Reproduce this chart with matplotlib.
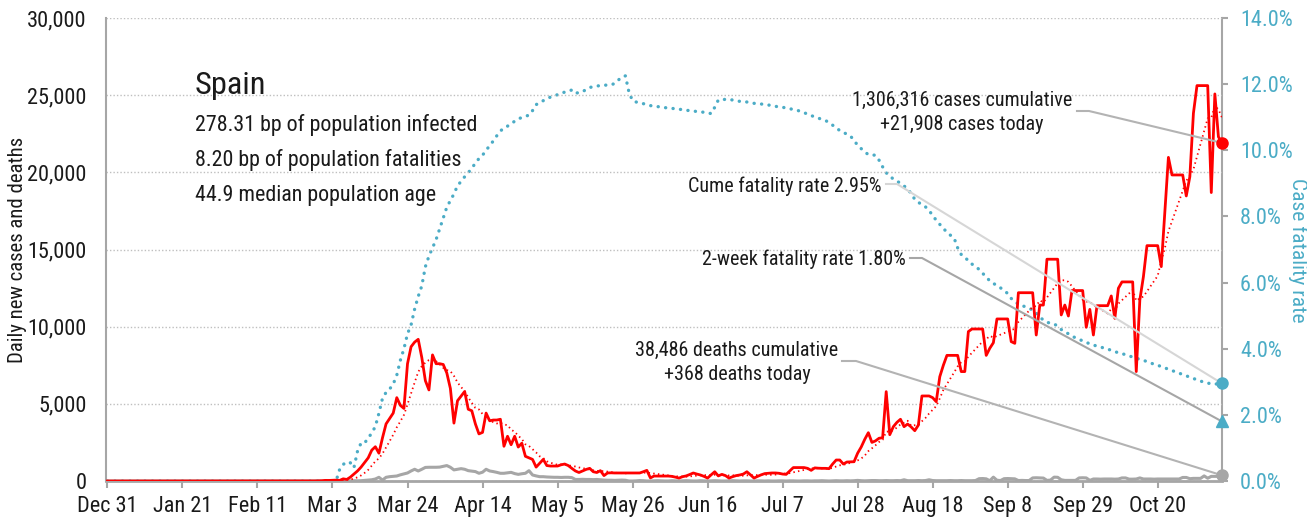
import matplotlib
matplotlib.use("Agg")
import matplotlib.pyplot as plt
import matplotlib.font_manager as fm
from matplotlib.font_manager import FontProperties
from matplotlib.textpath import TextPath
from matplotlib.lines import Line2D
import numpy as np
import pandas as pd

# ── Data (Spain, daily from Dec 31, 2019) ─────────────────────────────────────
START = "2019-12-31"

cases = [0] * 56 + [
    4, 3, 5, 10, 17, 39, 36, 45, 57, 37,
    141, 100, 250, 450, 650, 900, 1200, 1500, 2000, 2220,
    1800, 2800, 3700, 4050, 4400, 5400, 4900, 4700, 7600, 8700,
    9000, 9180, 8000, 6500, 5900, 8170, 7600, 7600, 7550, 7000,
    6000, 3750, 5200, 5500, 5800, 4650, 4550, 3700, 3050, 3150,
    4400, 3900, 3950, 3950, 4000, 2250, 2900, 2350, 2900, 2200,
    2450, 1600, 1500, 1400, 900, 1150, 1400, 1000, 970, 970,
    970, 1050, 1100, 1000, 820, 650, 550, 650, 750, 820,
    600, 550, 670, 350, 520, 530, 520, 520, 520, 520,
    520, 520, 520, 520, 600, 690, 200, 320, 320, 320,
    320, 320, 300, 250, 190, 280, 330, 420, 520, 450,
    390, 300, 190, 400, 600, 330, 430, 350, 190, 280,
    350, 390, 450, 600, 400, 190, 300, 400, 480, 500,
    520, 520, 500, 450, 430, 650, 870, 870, 870, 870,
    820, 690, 850, 830, 820, 820, 800, 1100, 1360, 1360,
    1100, 1230, 1240, 1250, 1800, 2200, 2700, 3130, 2500, 2600,
    2770, 2800, 5790, 3000, 3520, 3800, 4000, 3520, 3690, 3500,
    3260, 3620, 5510, 5510, 5510, 5400, 5140, 6760, 7500, 8140,
    8140, 8140, 8140, 7090, 7090, 9680, 9850, 9850, 9850, 9850,
    8140, 8600, 8960, 10500, 10500, 10500, 10500, 9030, 8920, 12200,
    12200, 12200, 12200, 12200, 9460, 11400, 11400, 14370, 14370, 14370,
    14370, 10760, 11400, 10690, 12340, 12340, 12340, 12340, 9960, 11120,
    9460, 11360, 11360, 11360, 11360, 11990, 10540, 12490, 12900, 12900,
    12900, 12900, 7090, 11730, 13240, 15250, 15250, 15250, 15250, 13890,
    17400, 20970, 19830, 19830, 19830, 19830, 18470, 19720, 23830, 25620,
    25620, 25620, 25620, 18690, 25080, 22300, 21908,
]

deaths = [0] * 65 + [
    2, 3, 5, 10, 17, 11, 20, 40, 60, 80,
    130, 240, 60, 240, 280, 300, 324, 400, 460, 520,
    650, 760, 650, 760, 880, 890, 890, 890, 900, 950,
    1000, 890, 720, 760, 800, 760, 670, 640, 610, 500,
    570, 760, 650, 610, 560, 500, 500, 530, 560, 480,
    430, 470, 500, 670, 390, 330, 280, 280, 260, 250,
    240, 240, 230, 240, 240, 220, 100, 100, 110, 100,
    100, 90, 100, 80, 60, 50, 50, 40, 50, 60,
    50, 0, 0, 10, 30, 20, 0, 0, 10, 20,
    10, 0, 0, 20, 10, 0, 10, 20, 10, 0,
    0, 20, 10, 0, 10, 20, 10, 0, 0, 10,
    20, 10, 0, 10, 10, 0, 0, 10, 10, 0,
    10, 0, 0, 10, 10, 0, 10, 10, 0, 0,
    10, 10, 0, 10, 10, 20, 10, 0, 10, 20,
    10, 10, 20, 10, 20, 40, 20, 10, 20, 30,
    30, 20, 20, 30, 20, 20, 30, 20, 80, 20,
    20, 20, 30, 20, 30, 80, 30, 20, 20, 20,
    20, 30, 20, 20, 30, 20, 20, 20, 30, 150,
    160, 140, 20, 250, 50, 30, 150, 160, 150, 140,
    30, 40, 30, 30, 200, 210, 200, 190, 40, 60,
    250, 240, 80, 40, 40, 40, 40, 200, 210, 200,
    40, 130, 130, 120, 130, 130, 130, 120, 130, 200,
    200, 120, 120, 130, 200, 130, 130, 130, 120, 130,
    130, 130, 130, 130, 130, 130, 230, 230, 150, 170,
    170, 170, 330, 180, 300, 300, 300, 368,
]

# cumulative case fatality rate, percent
cfr = [0] * 65 + [
    0.35, 0.50, 0.58, 0.55, 0.40, 0.90, 1.15, 1.15, 1.30, 1.45,
    1.65, 2.05, 2.50, 2.68, 2.78, 2.93, 3.20, 3.65, 4.00, 4.45,
    4.72, 5.20, 5.58, 5.90, 6.48, 6.80, 7.05, 7.30, 7.62, 7.95,
    8.28, 8.48, 8.68, 8.93, 9.06, 9.20, 9.32, 9.46, 9.61, 9.75,
    9.85, 10.00, 10.14, 10.28, 10.44, 10.58, 10.68, 10.73, 10.80, 10.88,
    10.95, 10.99, 11.03, 11.06, 11.20, 11.38, 11.44, 11.50, 11.55, 11.61,
    11.65, 11.68, 11.72, 11.76, 11.80, 11.82, 11.72, 11.75, 11.77, 11.84,
    11.90, 11.92, 11.94, 11.96, 11.97, 11.97, 11.98, 12.02, 12.12, 12.22,
    12.25, 11.75, 11.50, 11.46, 11.43, 11.41, 11.38, 11.35, 11.34, 11.32,
    11.31, 11.29, 11.28, 11.27, 11.25, 11.24, 11.23, 11.21, 11.20, 11.19,
    11.17, 11.16, 11.15, 11.13, 11.11, 11.30, 11.52, 11.53, 11.54, 11.54,
    11.52, 11.50, 11.48, 11.47, 11.46, 11.44, 11.42, 11.41, 11.40, 11.38,
    11.37, 11.35, 11.33, 11.31, 11.30, 11.28, 11.26, 11.23, 11.21, 11.18,
    11.14, 11.09, 11.05, 11.01, 10.97, 10.94, 10.90, 10.84, 10.76, 10.67,
    10.60, 10.55, 10.48, 10.43, 10.30, 10.15, 10.05, 9.95, 9.87, 9.86,
    9.85, 9.70, 9.50, 9.32, 9.22, 9.13, 9.07, 9.00, 8.92, 8.84,
    8.68, 8.52, 8.43, 8.35, 8.29, 8.17, 8.04, 7.88, 7.76, 7.64,
    7.52, 7.43, 7.35, 7.05, 6.85, 6.74, 6.68, 6.56, 6.48, 6.40,
    6.28, 6.17, 6.05, 5.98, 5.90, 5.84, 5.76, 5.67, 5.52, 5.42,
    5.35, 5.30, 5.27, 5.22, 5.17, 5.08, 4.95, 4.87, 4.80, 4.77,
    4.75, 4.68, 4.58, 4.52, 4.45, 4.38, 4.33, 4.28, 4.24, 4.19,
    4.15, 4.11, 4.08, 4.05, 4.02, 3.99, 3.95, 3.91, 3.88, 3.85,
    3.82, 3.78, 3.75, 3.71, 3.68, 3.65, 3.61, 3.57, 3.53, 3.50,
    3.46, 3.42, 3.38, 3.34, 3.30, 3.26, 3.22, 3.18, 3.14, 3.10,
    3.06, 3.02, 2.99, 2.96, 2.94, 2.93, 2.94, 2.95,
]

two_week_cfr = 1.80

title = "Spain"
info_lines = ["278.31 bp of population infected",
              "8.20 bp of population fatalities",
              "44.9 median population age"]
cases_note = ["1,306,316 cases cumulative", "+21,908 cases today"]
deaths_note = ["38,486 deaths cumulative", "+368 deaths today"]
cume_note = "Cume fatality rate 2.95%"
week_note = "2-week fatality rate 1.80%"

# ── Style ─────────────────────────────────────────────────────────────────────
RED = "#ff0000"
BLUE = "#4bacc6"
GREY = "#a6a6a6"
TXT = "#1a1a1a"

W, H = 1307, 520
L, R, T, B = 106, 1222, 18, 481   # axes box in pixels (y from top)

# pick a narrow face if there is one
names = {f.name for f in fm.fontManager.ttflist}
FONT, STRETCH = "Roboto", "normal"
for cand in ["Roboto Condensed", "Liberation Sans Narrow", "Open Sans Condensed",
             "Noto Sans Condensed"]:
    if cand in names:
        FONT = cand
        break
else:
    for f in fm.fontManager.ttflist:
        if f.name in ("DejaVu Sans", "Noto Sans") and f.stretch == "condensed":
            FONT, STRETCH = f.name, "condensed"
            break
plt.rcParams["font.family"] = FONT
plt.rcParams["font.stretch"] = STRETCH


def fit(text, px):
    """font size (pt) that makes `text` about `px` pixels wide"""
    tp = TextPath((0, 0), text, size=10, prop=FontProperties(family=FONT, stretch=STRETCH))
    return 10 * px / (tp.get_extents().width * 100 / 72)


FS_TICK = fit("30,000", 57)
FS_NOTE = fit(cases_note[0], 218)
FS_INFO = fit(info_lines[0], 280)
FS_TITLE = fit(title, 68)
FS_YLAB = fit("Daily new cases and deaths", 224)
FS_Y2LAB = fit("Case fatality rate", 142)


def fx(px):
    return px / W


def fy(py):
    return 1 - py / H


# ── Plot ──────────────────────────────────────────────────────────────────────
x = np.arange(len(cases))
dates = pd.date_range(START, periods=len(cases), freq="D")
avg7 = pd.Series(cases).rolling(7, min_periods=1).mean()

fig = plt.figure(figsize=(W / 100, H / 100), dpi=100)
ax = fig.add_axes([fx(L), fy(B), (R - L) / W, (B - T) / H])
ax2 = ax.twinx()
ax.set_zorder(ax2.get_zorder() + 1)
ax.patch.set_visible(False)

ax2.plot(x, cfr, color=BLUE, lw=2.4, ls=(0, (0.05, 2.2)), dash_capstyle="round")
ax.plot(x, deaths, color=GREY, lw=2.2, solid_joinstyle="round", zorder=2)
ax.plot(x, cases, color=RED, lw=2.0, solid_joinstyle="round", zorder=3)
ax.plot(x, avg7, color=RED, lw=1.3, ls=(0, (0.8, 1.8)), zorder=3)

ax.set_xlim(-0.4, x[-1])
ax.set_ylim(0, 30000)
ax2.set_ylim(0, 14)

# ticks and grid
ticks = x[::21]
ax.set_xticks(ticks)
ax.set_xticklabels([f"{d:%b} {d.day}" for d in dates[::21]])
ax.set_yticks(range(0, 30001, 5000))
ax.set_yticklabels([f"{v:,}" for v in range(0, 30001, 5000)])
ax2.set_yticks(range(0, 15, 2))
ax2.set_yticklabels([f"{v:.1f}%" for v in range(0, 15, 2)])

ax.tick_params(axis="x", length=5, width=1.5, color=GREY, pad=6,
               labelsize=FS_TICK, labelcolor=TXT)
ax.tick_params(axis="y", length=0, pad=14, labelsize=FS_TICK, labelcolor=TXT)
ax2.tick_params(axis="y", length=4, width=1.5, color=GREY, pad=9,
                labelsize=FS_TICK, labelcolor=BLUE)

ax.yaxis.grid(True, color="#bfbfbf", ls=(0, (1, 1.5)), lw=1)
for a in (ax, ax2):
    a.spines["top"].set_visible(False)
ax.spines["right"].set_visible(False)
ax2.spines["left"].set_visible(False)
ax2.spines["bottom"].set_visible(False)
ax.spines["left"].set_color(GREY)
ax.spines["left"].set_linewidth(1.5)
ax.spines["bottom"].set_color(GREY)
ax.spines["bottom"].set_linewidth(2)
ax2.spines["right"].set_color(GREY)
ax2.spines["right"].set_linewidth(1.5)

# end markers (blue ones use the right-hand scale)
ax.plot(x[-1], cases[-1], "o", color=RED, ms=8, clip_on=False, zorder=6)
ax.plot(x[-1], deaths[-1], "o", color=GREY, ms=8, clip_on=False, zorder=6)
ax.plot(x[-1], cfr[-1], "o", color=BLUE, ms=8, clip_on=False, zorder=6,
        transform=ax2.transData)
ax.plot(x[-1], two_week_cfr, "^", color=BLUE, ms=9, clip_on=False, zorder=6,
        transform=ax2.transData)

# axis titles
fig.text(fx(18), fy(250), "Daily new cases and deaths", rotation=90,
         ha="center", va="center", fontsize=FS_YLAB, color=TXT)
fig.text(fx(1298), fy(250), "Case fatality rate", rotation=270,
         ha="center", va="center", fontsize=FS_Y2LAB, color=BLUE)

# country block
fig.text(fx(195), fy(86), title, ha="left", va="center", fontsize=FS_TITLE, color=TXT)
for i, line in enumerate(info_lines):
    fig.text(fx(195), fy(125 + 35 * i), line, ha="left", va="center",
             fontsize=FS_INFO, color=TXT)

# notes
fig.text(fx(962), fy(100), cases_note[0], ha="center", va="center", fontsize=FS_NOTE, color=TXT)
fig.text(fx(962), fy(125), cases_note[1], ha="center", va="center", fontsize=FS_NOTE, color=TXT)
fig.text(fx(737), fy(350), deaths_note[0], ha="center", va="center", fontsize=FS_NOTE, color=TXT)
fig.text(fx(737), fy(375), deaths_note[1], ha="center", va="center", fontsize=FS_NOTE, color=TXT)
fig.text(fx(882), fy(186), cume_note, ha="right", va="center", fontsize=FS_NOTE, color=TXT)
fig.text(fx(906), fy(259), week_note, ha="right", va="center", fontsize=FS_NOTE, color=TXT)


def connector(p0, p1, end_xy, trans, color):
    ex, ey = trans.transform(end_xy)
    xs = [fx(p0[0]), fx(p1[0]), ex / W]
    ys = [fy(p0[1]), fy(p1[1]), ey / H]
    ax.add_line(Line2D(xs, ys, transform=fig.transFigure, color=color, lw=1.5,
                       clip_on=False, zorder=4))


connector((1077, 111), (1089, 111), (x[-1], cases[-1]), ax.transData, "#b3b3b3")
connector((886, 184), (897, 184), (x[-1], cfr[-1]), ax2.transData, "#d6d6d6")
connector((910, 258), (922, 258), (x[-1], two_week_cfr), ax2.transData, "#a6a6a6")
connector((842, 361), (856, 361), (x[-1], deaths[-1]), ax.transData, "#b3b3b3")

fig.savefig("out.png", dpi=100)
